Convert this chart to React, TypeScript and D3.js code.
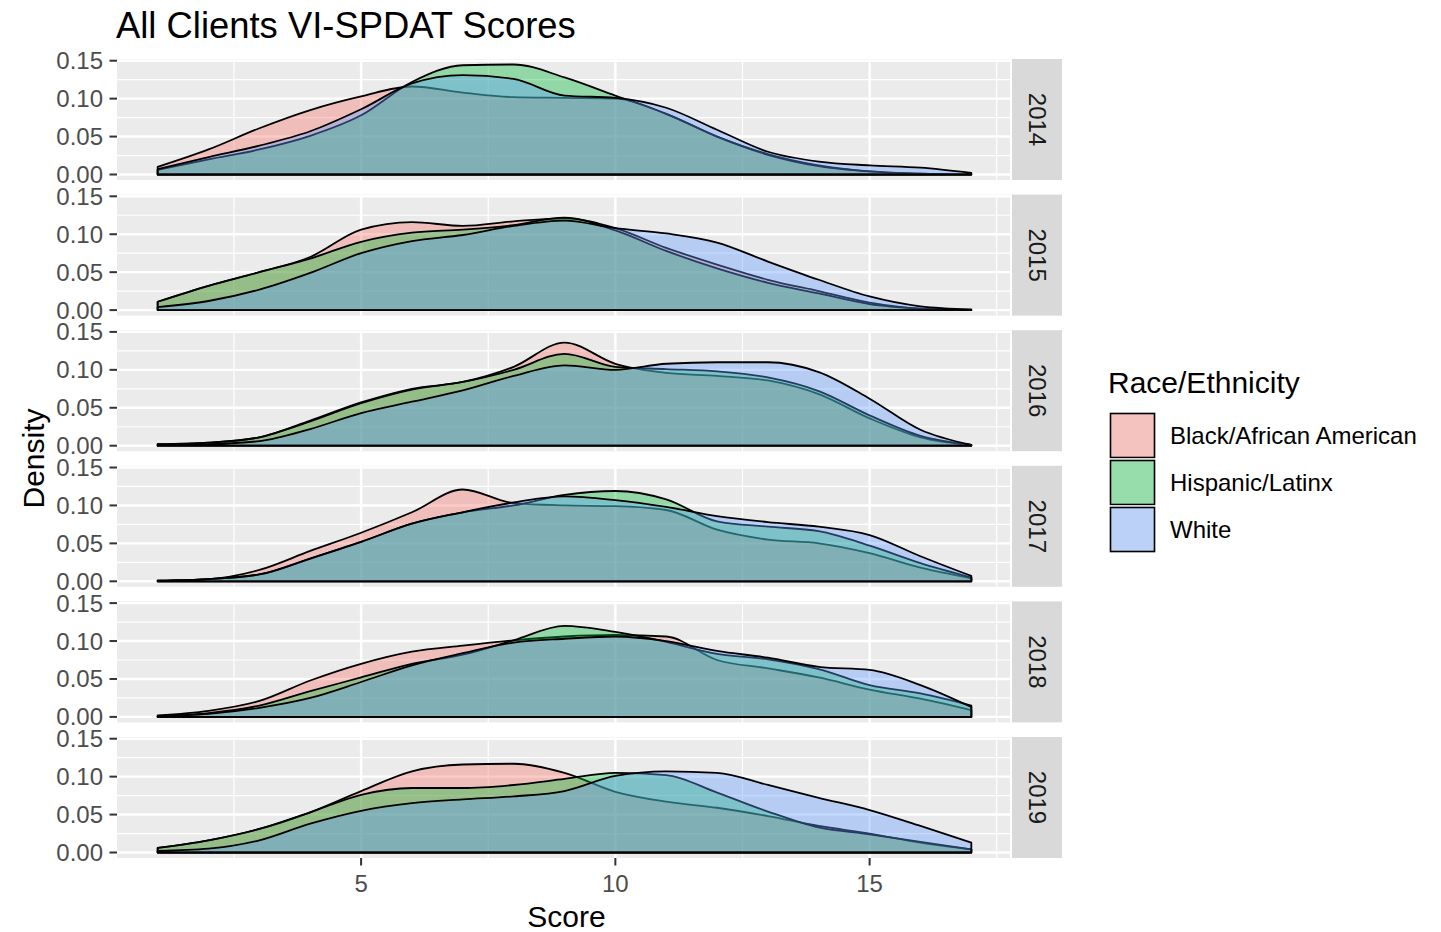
import React from 'react';
import * as d3 from 'd3';

// ---------- data ----------
const years = ['2014', '2015', '2016', '2017', '2018', '2019'];
const groups = ['Black/African American', 'Hispanic/Latinx', 'White'];
const groupColors = ['#F8766D', '#00BA38', '#619CFF'];
const scores = [1, 2, 3, 4, 5, 6, 7, 8, 9, 10, 11, 12, 13, 14, 15, 16, 17];

const black2014 = [0.010, 0.033, 0.061, 0.085, 0.103, 0.116, 0.108, 0.102, 0.101, 0.100, 0.080, 0.050, 0.027, 0.012, 0.004, 0.001, 0.000];
const hisp2014 = [0.006, 0.020, 0.033, 0.051, 0.078, 0.122, 0.144, 0.145, 0.128, 0.104, 0.080, 0.050, 0.026, 0.011, 0.004, 0.001, 0.000];
const white2014 = [0.007, 0.023, 0.038, 0.057, 0.086, 0.120, 0.131, 0.126, 0.104, 0.101, 0.088, 0.059, 0.030, 0.017, 0.012, 0.009, 0.002];

const black2015 = [0.011, 0.032, 0.050, 0.070, 0.106, 0.116, 0.111, 0.117, 0.121, 0.108, 0.082, 0.060, 0.040, 0.025, 0.010, 0.002, 0.000];
const hisp2015 = [0.011, 0.032, 0.050, 0.068, 0.090, 0.102, 0.106, 0.112, 0.122, 0.105, 0.078, 0.055, 0.036, 0.022, 0.008, 0.002, 0.000];
const white2015 = [0.004, 0.012, 0.027, 0.049, 0.075, 0.091, 0.099, 0.111, 0.118, 0.108, 0.101, 0.089, 0.064, 0.040, 0.018, 0.005, 0.001];

const black2016 = [0.002, 0.004, 0.011, 0.033, 0.057, 0.075, 0.084, 0.104, 0.136, 0.108, 0.096, 0.092, 0.086, 0.068, 0.036, 0.011, 0.001];
const hisp2016 = [0.002, 0.004, 0.011, 0.032, 0.056, 0.074, 0.084, 0.100, 0.121, 0.104, 0.101, 0.098, 0.090, 0.072, 0.040, 0.013, 0.001];
const white2016 = [0.001, 0.002, 0.006, 0.022, 0.043, 0.058, 0.073, 0.092, 0.106, 0.100, 0.108, 0.110, 0.110, 0.097, 0.062, 0.021, 0.001];

const black2017 = [0.001, 0.003, 0.015, 0.040, 0.064, 0.091, 0.121, 0.103, 0.100, 0.099, 0.094, 0.068, 0.055, 0.050, 0.037, 0.018, 0.004];
const hisp2017 = [0.001, 0.003, 0.009, 0.030, 0.052, 0.076, 0.091, 0.100, 0.114, 0.119, 0.108, 0.079, 0.072, 0.066, 0.047, 0.024, 0.005];
const white2017 = [0.001, 0.003, 0.009, 0.030, 0.052, 0.076, 0.091, 0.104, 0.112, 0.107, 0.098, 0.086, 0.078, 0.072, 0.061, 0.033, 0.007];

const black2018 = [0.002, 0.008, 0.021, 0.048, 0.070, 0.086, 0.094, 0.101, 0.106, 0.108, 0.106, 0.075, 0.064, 0.052, 0.036, 0.024, 0.009];
const hisp2018 = [0.001, 0.005, 0.015, 0.034, 0.052, 0.070, 0.082, 0.101, 0.120, 0.112, 0.099, 0.083, 0.076, 0.063, 0.042, 0.031, 0.015];
const white2018 = [0.001, 0.004, 0.012, 0.025, 0.046, 0.068, 0.084, 0.098, 0.103, 0.106, 0.100, 0.087, 0.078, 0.066, 0.062, 0.042, 0.013];

const black2019 = [0.006, 0.016, 0.031, 0.053, 0.081, 0.107, 0.116, 0.117, 0.105, 0.080, 0.067, 0.059, 0.048, 0.035, 0.025, 0.013, 0.004];
const hisp2019 = [0.006, 0.016, 0.031, 0.053, 0.076, 0.085, 0.085, 0.089, 0.097, 0.105, 0.102, 0.079, 0.054, 0.033, 0.024, 0.014, 0.004];
const white2019 = [0.002, 0.005, 0.016, 0.038, 0.055, 0.065, 0.070, 0.074, 0.081, 0.101, 0.107, 0.105, 0.089, 0.072, 0.056, 0.035, 0.013];

const seriesByYear = [
  [black2014, hisp2014, white2014],
  [black2015, hisp2015, white2015],
  [black2016, hisp2016, white2016],
  [black2017, hisp2017, white2017],
  [black2018, hisp2018, white2018],
  [black2019, hisp2019, white2019],
];

const yTicks = [0, 0.05, 0.1, 0.15];
const yMinor = [0.025, 0.075, 0.125];
const xTicks = [5, 10, 15];
const xMinor = [2.5, 7.5, 12.5, 17.5];

// ---------- layout ----------
const W = 1441;
const H = 932;
const FONT = '"Liberation Sans", Arial, Helvetica, sans-serif';
const panelLeft = 117;
const panelRight = 1010;
const panelTop0 = 59;
const panelStep = 135.6;
const panelH = 121;
const stripX = 1012;
const stripW = 50;
const ALPHA = 0.38;

const x = d3.scaleLinear().domain([0.2, 17.8]).range([panelLeft, panelRight + 2]);

export default function App() {
  const lastBottom = panelTop0 + 5 * panelStep + panelH;
  const midY = (panelTop0 + lastBottom) / 2;
  const midX = (panelLeft + panelRight) / 2;

  return (
    <svg width={W} height={H} style={{ display: 'block', position: 'absolute', left: 0, top: 0, background: '#fff' }} fontFamily={FONT}>
      <rect x={0} y={0} width={W} height={H} fill="#fff" />
      <text x={116} y={38} fontSize={36.4} fill="#000">All Clients VI-SPDAT Scores</text>

      {years.map((yr, i) => {
        const top = panelTop0 + i * panelStep;
        const y = d3.scaleLinear().domain([-0.00725, 0.15225]).range([top + panelH, top]);
        const area = d3
          .area<number>()
          .x((_, k) => x(scores[k]))
          .y0(y(0))
          .y1((d) => y(d))
          .curve(d3.curveMonotoneX);
        return (
          <g key={yr}>
            <rect x={panelLeft} y={top} width={panelRight - panelLeft} height={panelH} fill="#EBEBEB" />
            {yMinor.map((v) => (
              <line key={'ym' + v} x1={panelLeft} x2={panelRight} y1={y(v)} y2={y(v)} stroke="#fff" strokeWidth={1.2} />
            ))}
            {xMinor.map((v) => (
              <line key={'xm' + v} x1={x(v)} x2={x(v)} y1={top} y2={top + panelH} stroke="#fff" strokeWidth={1.2} />
            ))}
            {yTicks.map((v) => (
              <line key={'yM' + v} x1={panelLeft} x2={panelRight} y1={y(v)} y2={y(v)} stroke="#fff" strokeWidth={2.4} />
            ))}
            {xTicks.map((v) => (
              <line key={'xM' + v} x1={x(v)} x2={x(v)} y1={top} y2={top + panelH} stroke="#fff" strokeWidth={2.4} />
            ))}
            {seriesByYear[i].map((vals, g) => (
              <path
                key={groups[g]}
                d={area(vals) || ''}
                fill={groupColors[g]}
                fillOpacity={ALPHA}
                stroke="#000"
                strokeWidth={1.8}
                strokeLinejoin="round"
              />
            ))}
            {yTicks.map((v) => (
              <g key={'yt' + v}>
                <line x1={panelLeft - 7.5} x2={panelLeft} y1={y(v)} y2={y(v)} stroke="#333" strokeWidth={2} />
                <text x={panelLeft - 14} y={y(v) + 8.5} fontSize={24} fill="#4D4D4D" textAnchor="end">
                  {d3.format('.2f')(v)}
                </text>
              </g>
            ))}
            <rect x={stripX} y={top} width={stripW} height={panelH} fill="#D9D9D9" />
            <text
              transform={`translate(${stripX + stripW / 2 - 8.5},${top + panelH / 2}) rotate(90)`}
              fontSize={24}
              fill="#1A1A1A"
              textAnchor="middle"
            >
              {yr}
            </text>
          </g>
        );
      })}

      {xTicks.map((v) => (
        <g key={'xt' + v}>
          <line x1={x(v)} x2={x(v)} y1={lastBottom} y2={lastBottom + 7.5} stroke="#333" strokeWidth={2} />
          <text x={x(v)} y={lastBottom + 34} fontSize={24} fill="#4D4D4D" textAnchor="middle">
            {v}
          </text>
        </g>
      ))}

      <text x={midX + 3} y={927} fontSize={30} fill="#000" textAnchor="middle">Score</text>
      <text transform={`translate(44,${midY}) rotate(-90)`} fontSize={30} fill="#000" textAnchor="middle">Density</text>

      <text x={1108} y={393} fontSize={30} fill="#000">Race/Ethnicity</text>
      {groups.map((g, k) => {
        const ky = 412 + k * 47;
        return (
          <g key={g}>
            <rect x={1109} y={ky} width={47} height={47} fill="#F2F2F2" stroke="#fff" strokeWidth={1} />
            <rect x={1110.5} y={ky + 1.5} width={44} height={44} fill={groupColors[k]} fillOpacity={ALPHA} stroke="#000" strokeWidth={1.6} />
            <text x={1170} y={ky + 23.5 + 8.5} fontSize={24} fill="#000">{g}</text>
          </g>
        );
      })}
    </svg>
  );
}
